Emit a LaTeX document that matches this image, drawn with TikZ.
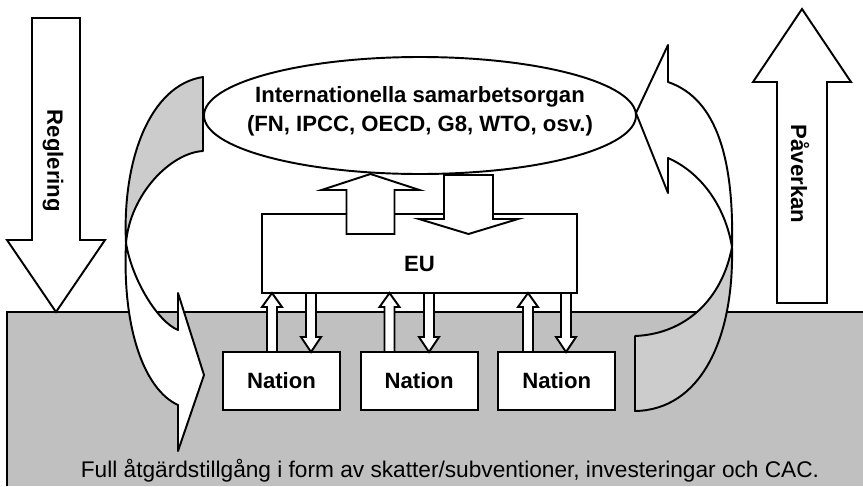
\documentclass[tikz,border=0pt]{standalone}
\usepackage{fontspec}
\setmainfont{Liberation Sans}
\usetikzlibrary{positioning,shapes.geometric}

\definecolor{ground}{RGB}{192,192,192}
\definecolor{ribbon}{RGB}{204,204,204}

% straight block arrow: x, tail y, head base y, tip y, half shaft, half head
\newcommand{\blockarr}[6]{%
	\draw[fill=white] ({#1-#5},#2) -- ({#1-#5},#3) -- ({#1-#6},#3) -- (#1,#4)
		-- ({#1+#6},#3) -- ({#1+#5},#3) -- ({#1+#5},#2) -- cycle;}

\begin{document}
\begin{tikzpicture}[x=0.75pt, y=-0.75pt, line width=1.45pt,
		font=\fontsize{16.6}{21.75}\selectfont\bfseries]
			\useasboundingbox (0,0) rectangle (863,486);

			\fill[ground] (7,312) rectangle (863,486);
			\draw (863,312) -- (7,312) -- (7,486);

			\blockarr{56}{18}{240}{312}{24}{49}
			\blockarr{802}{303}{82}{9}{25}{49}

			\begin{scope}[every node/.style = {shape=rectangle, draw, fill=white, inner sep=0pt}]
				\tikzstyle{nation}=[minimum width=87.75pt, minimum height=43.5pt]
				\node (org) [ellipse, minimum width=324pt, minimum height=87.75pt] at (420,115.5) {};
				\node (eu) [minimum width=236.25pt, minimum height=59.25pt] at (419.5,253.5) {};
				\node (n1) [nation] at (281.5,381) {Nation};
				\node (n2) [nation, right=14pt of n1] {Nation};
				\node (n3) [nation, right=14pt of n2] {Nation};
			\end{scope}

			\blockarr{370.5}{234}{190}{174}{24}{49}
			\blockarr{468.5}{175}{219}{234}{24.5}{49.5}

			\foreach \u/\d in {272/311, 389.5/429, 528/566} {
				\blockarr{\u}{352}{307}{293}{5}{10}
				\blockarr{\d}{293}{337}{352}{5}{10}
			}

			\begin{scope}[line join=round]
				\filldraw[fill=ribbon] (203,77) -- (203,151) .. controls (170,153) and (130,195) .. (126,243)
					.. controls (122,160) and (150,85) .. (203,77) -- cycle;
				\filldraw[fill=white] (126,243) .. controls (122,330) and (145,390) .. (178,405)
					-- (178,451) -- (204,375) -- (178,293) -- (178,330)
					.. controls (158,322) and (132,280) .. (126,243) -- cycle;

				\filldraw[fill=ribbon] (635,336) -- (635,411) .. controls (700,410) and (734,340) .. (732,247)
					.. controls (722,300) and (685,334) .. (635,336) -- cycle;
				\filldraw[fill=white] (668,82) .. controls (718,99) and (734,162) .. (732,247)
					.. controls (725,205) and (700,172) .. (668,158)
					-- (668,193) -- (636,113) -- (668,45) -- cycle;
			\end{scope}

			\node (orgtext) [align=center] at (420,111.5) {Internationella samarbetsorgan\\(FN, IPCC, OECD, G8, WTO, osv.)};
			\node (eutext) at ([yshift=-7.5pt]eu.center) {EU};
			\node (reglering) [rotate=-90] at (53,161) {Reglering};
			\node (paverkan) [rotate=-90] at (800,174) {Påverkan};
			\node (atgarder) [font=\fontsize{17}{20}\selectfont] at (450,470.5)
				{Full åtgärdstillgång i form av skatter/subventioner, investeringar och CAC.};
		\end{tikzpicture}
\end{document}
